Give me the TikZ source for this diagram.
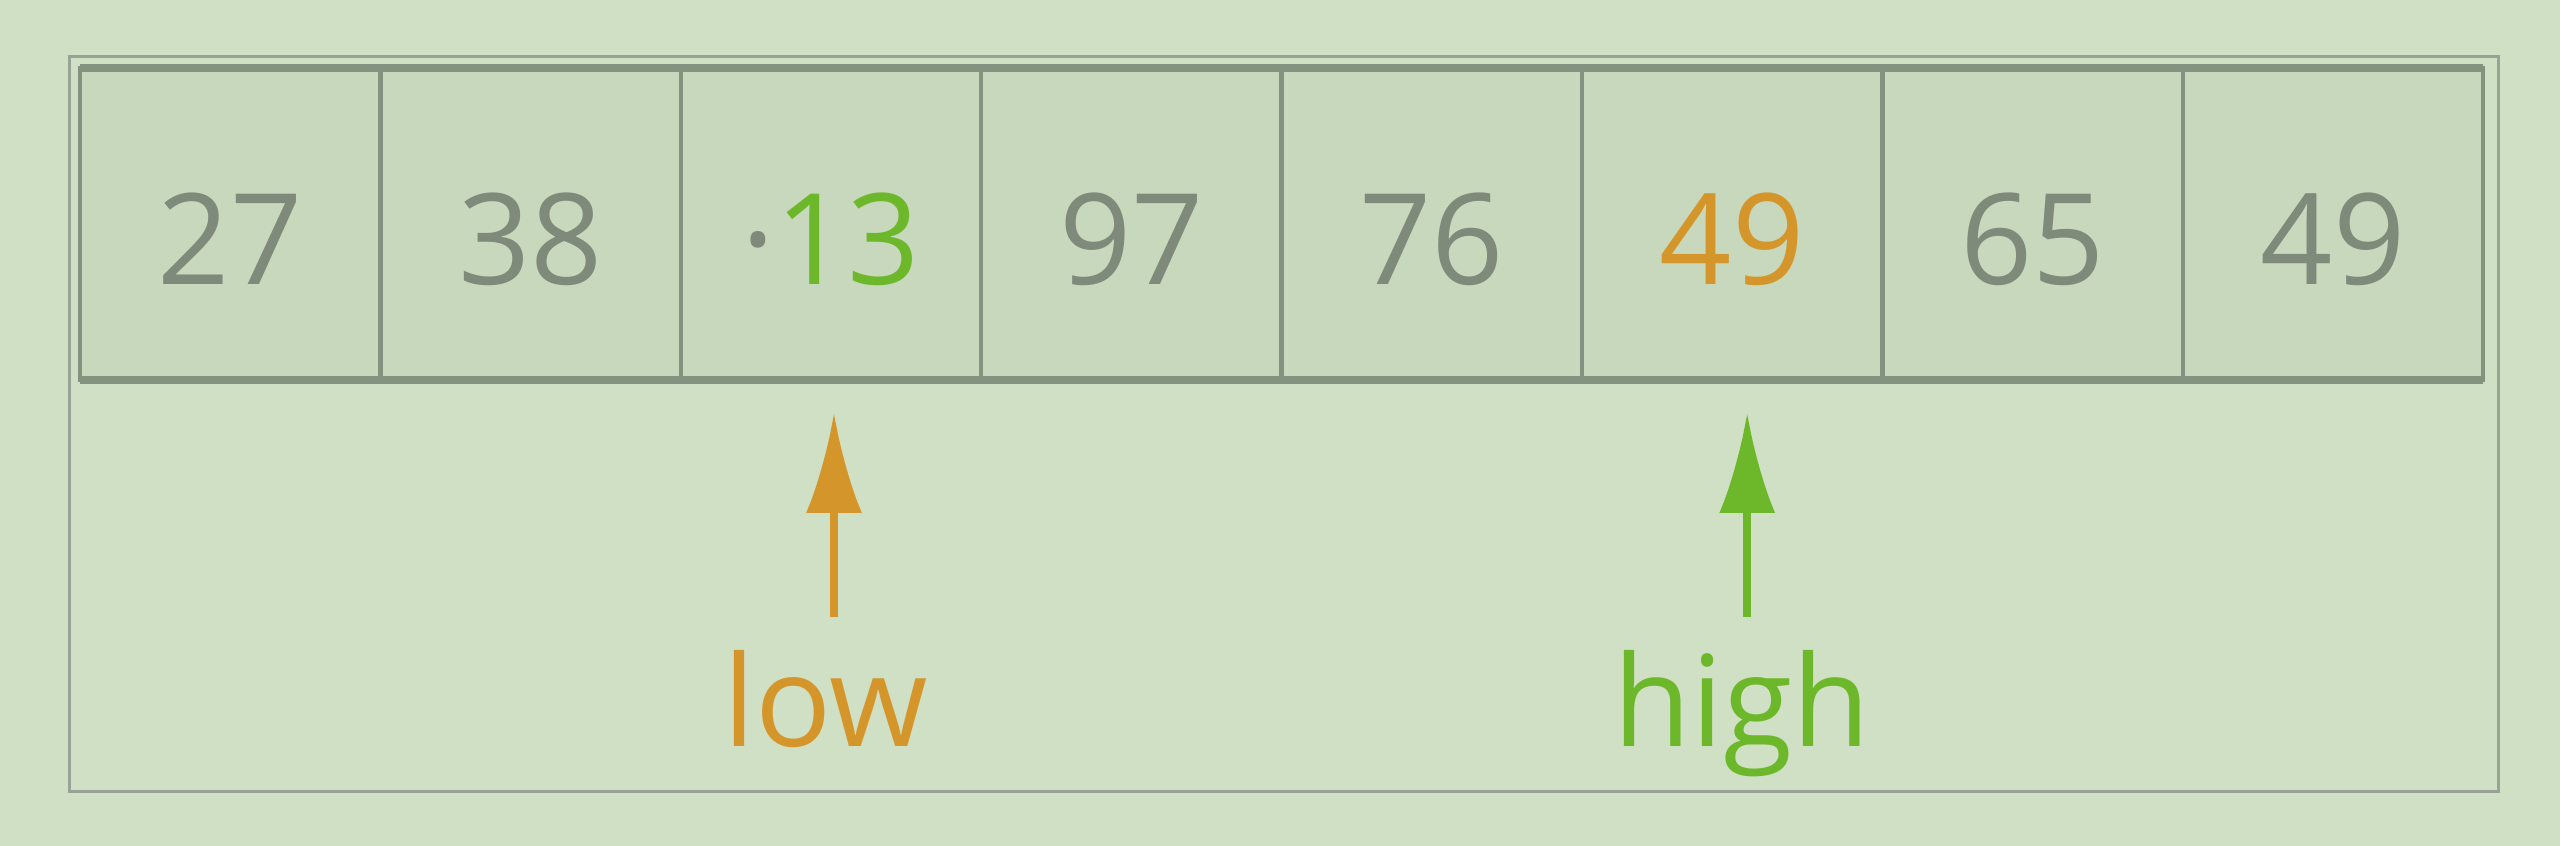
\documentclass[tikz,border=0pt]{standalone}
\usepackage{fontspec}
\setmainfont{Open Sans}
\usepackage{xcolor}
\usetikzlibrary{positioning,calc,arrows.meta}
\definecolor{bgcol}{RGB}{208,224,196}
\definecolor{cellcol}{RGB}{200,216,188}
\definecolor{edgecol}{RGB}{132,146,128}
\definecolor{framecol}{RGB}{152,162,150}
\definecolor{numgray}{RGB}{126,138,122}
\definecolor{loworange}{RGB}{212,150,42}
\definecolor{highgreen}{RGB}{108,184,42}
\begin{document}
\begin{tikzpicture}[>={Latex[length=1cm,width=0.56cm]}]
%===styles===
\tikzset{cell/.style ={draw=edgecol, fill=cellcol, line width=0.045cm, minimum width=3.004cm, minimum height=3.12cm, inner sep=0pt, outer sep=0pt, text height=1.21cm, text depth=0cm, font=\fontsize{36}{40}\selectfont},
 pointer/.style ={line width=0.08cm, ->},
 tag/.style ={inner sep=0pt, anchor=base, font=\fontsize{36}{40}\selectfont}}
%===background===
\fill[bgcol] (0,0) rectangle (25.6,8.46);
\useasboundingbox (0,0) rectangle (25.6,8.46);
\draw[framecol, line width=0.03cm] (0.69,0.54) rectangle (24.98,7.89);
%===array cells===
\node[cell, text=numgray] (c1) at (2.302,6.22) {27};
\foreach \v/\col [count=\i from 2] in {38/numgray,{{\color{numgray}·}13}/highgreen,97/numgray,76/numgray,49/loworange,65/numgray,49/numgray}{
 \pgfmathtruncatemacro{\j}{\i-1}
 \node[cell, text=\col, right=0cm of c\j] (c\i) {\v};
}
%===thick top and bottom edges===
\draw[edgecol, line width=0.08cm] (c1.north west) -- (c8.north east);
\draw[edgecol, line width=0.08cm] (c1.south west) -- (c8.south east);
%===pointers===
\coordinate (lowtip) at ($(c3.south)+(0.03,-0.33)$);
\coordinate (lowfoot) at ($(lowtip)+(0,-2.04)$);
\draw[pointer, loworange] (lowfoot) -- (lowtip);
\node[tag, text=loworange] (lowlbl) at (8.26,0.99) {low};
\coordinate (hightip) at ($(c6.south)+(0.15,-0.33)$);
\coordinate (highfoot) at ($(hightip)+(0,-2.04)$);
\draw[pointer, highgreen] (highfoot) -- (hightip);
\node[tag, text=highgreen] (highlbl) at (17.42,0.99) {high};
\end{tikzpicture}
\end{document}
